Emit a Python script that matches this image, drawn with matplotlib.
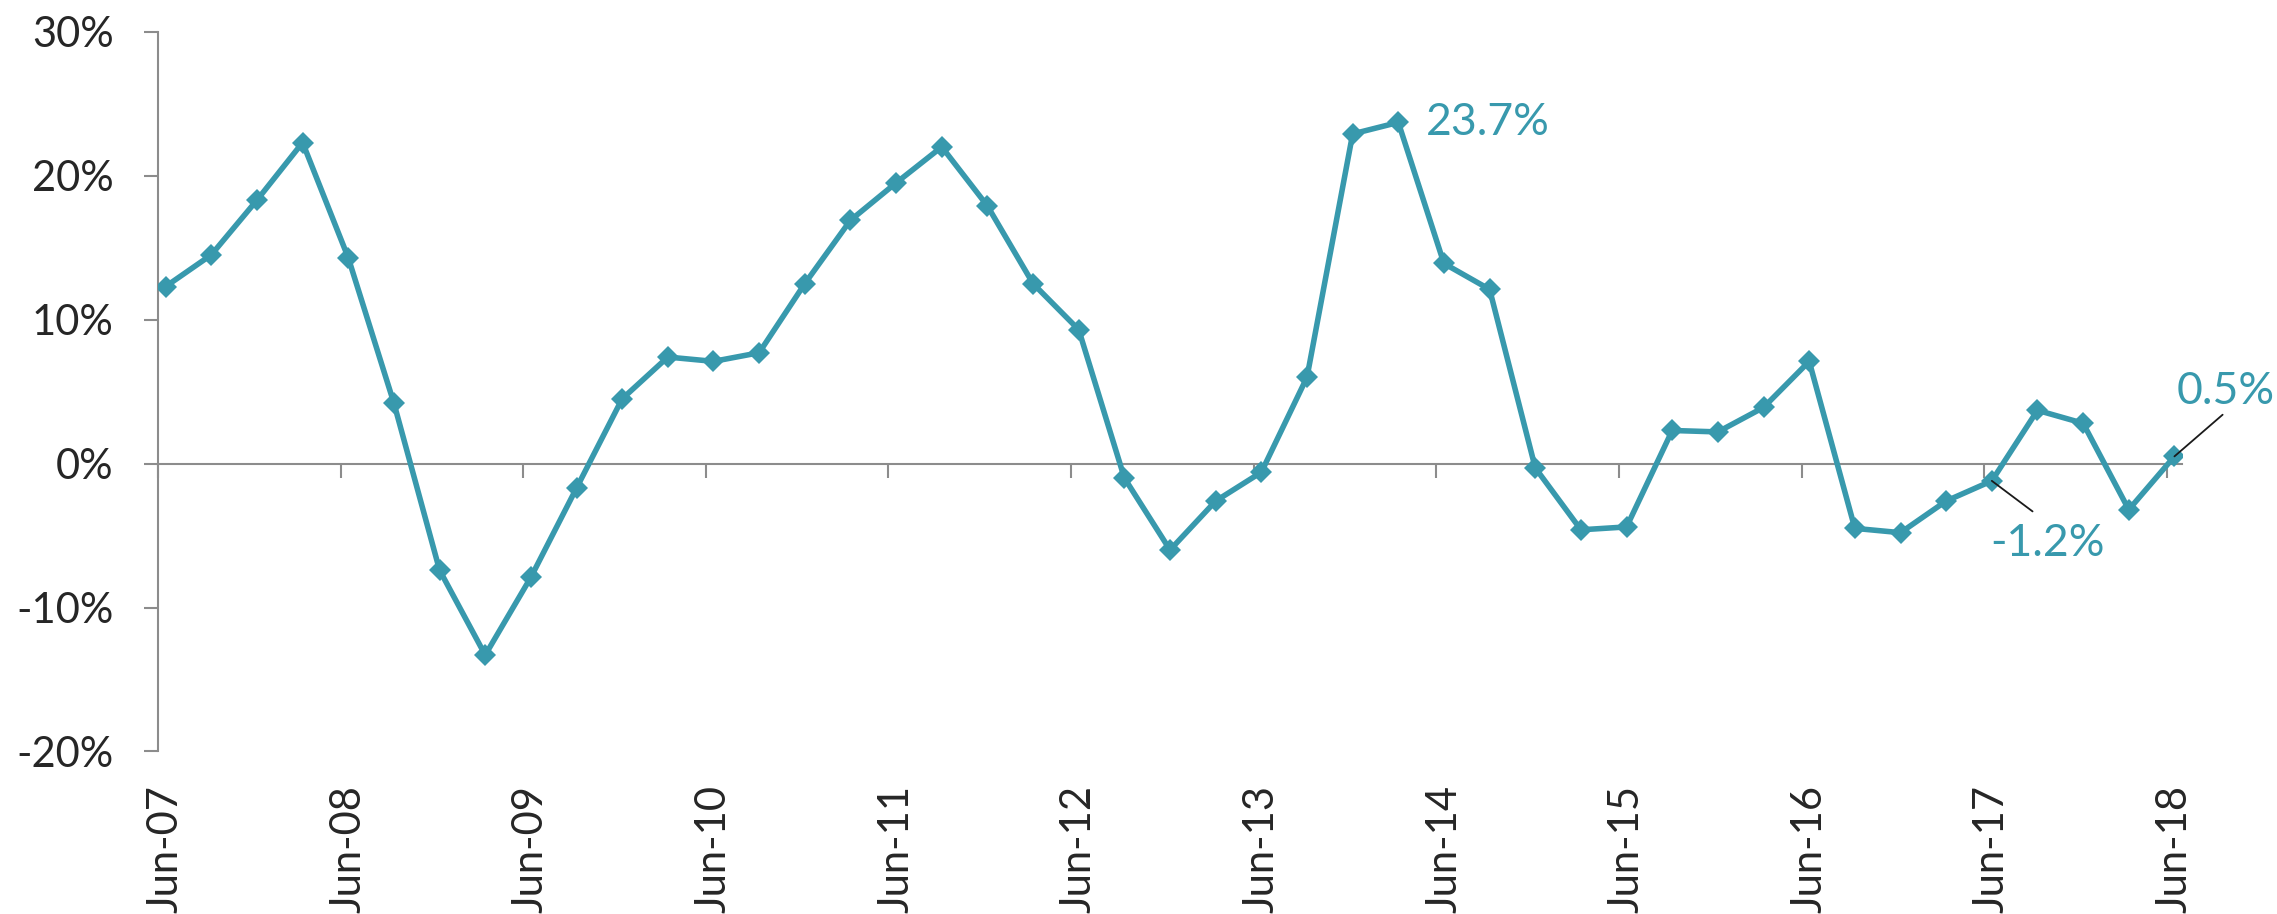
import numpy as np
import matplotlib
matplotlib.use("Agg")
import matplotlib.pyplot as plt

# ----------------------
# Data (quarterly, Jun-07 .. Jun-18), % change
# ----------------------
year_labels = ["Jun-07", "Jun-08", "Jun-09", "Jun-10", "Jun-11", "Jun-12",
               "Jun-13", "Jun-14", "Jun-15", "Jun-16", "Jun-17", "Jun-18"]
growth = [12.3, 14.5, 18.3, 22.3,
          14.3, 4.2, -7.4, -13.3,
          -7.9, -1.7, 4.5, 7.4,
          7.1, 7.7, 12.5, 16.9,
          19.5, 22.0, 17.9, 12.5,
          9.3, -1.0, -6.0, -2.6,
          -0.6, 6.0, 22.9, 23.7,
          13.9, 12.1, -0.3, -4.6,
          -4.4, 2.3, 2.2, 3.9,
          7.1, -4.5, -4.8, -2.6,
          -1.2, 3.7, 2.8, -3.2,
          0.5]

teal = "#3899AD"
plt.rcParams["font.family"] = ["Lato", "DejaVu Sans"]

# months since Jun-07, points sit mid-month like Excel's date axis
months = np.arange(len(growth)) * 3 + 0.5
year_ticks = np.arange(len(year_labels)) * 12

fig = plt.figure(figsize=(22.77, 9.14), dpi=100)
ax = fig.add_axes([0.0694, 0.1778, 0.8889, 0.7875])

ax.plot(months, growth, color=teal, lw=4.0, marker="D", ms=11.5,
        markeredgewidth=0, zorder=3)

ax.set_xlim(0, 133)
ax.set_ylim(-20, 30)
ax.set_yticks([-20, -10, 0, 10, 20, 30])
ax.set_yticklabels([f"{v}%" for v in [-20, -10, 0, 10, 20, 30]])

for s in ["top", "right"]:
    ax.spines[s].set_visible(False)
ax.spines["left"].set_color("#8C8C8C")
ax.spines["left"].set_linewidth(1.5)
ax.spines["bottom"].set_position(("data", 0))
ax.spines["bottom"].set_color("#8C8C8C")
ax.spines["bottom"].set_linewidth(1.5)

ax.tick_params(axis="y", length=10, width=1.5, color="#8C8C8C", pad=22,
               labelsize=30, labelcolor="#262626")
ax.set_xticks(year_ticks)
ax.tick_params(axis="x", length=10, width=1.5, color="#8C8C8C",
               labelbottom=False)

# year labels along the bottom
sec = ax.secondary_xaxis("bottom")
sec.set_xticks(year_ticks + 0.5)
sec.set_xticklabels(year_labels, rotation=90)
sec.tick_params(length=0, pad=24, labelsize=30, labelcolor="#262626")
sec.spines["bottom"].set_visible(False)

# data labels
ax.annotate("23.7%", xy=(months[27], growth[27]), xytext=(20, 0),
            textcoords="offset points", ha="left", va="center",
            fontsize=32, color=teal)
ax.annotate("-1.2%", xy=(months[40], growth[40]), xytext=(40, -30),
            textcoords="offset points", ha="center", va="top",
            fontsize=32, color=teal,
            arrowprops=dict(arrowstyle="-", color="#1a1a1a", lw=1.3,
                            relpos=(0.5, 1), shrinkA=10, shrinkB=0))
ax.annotate("0.5%", xy=(months[44], growth[44]), xytext=(37, 32),
            textcoords="offset points", ha="center", va="bottom",
            fontsize=32, color=teal,
            arrowprops=dict(arrowstyle="-", color="#1a1a1a", lw=1.3,
                            relpos=(0.5, 0), shrinkA=0, shrinkB=0))

fig.savefig("out.png", dpi=100)
